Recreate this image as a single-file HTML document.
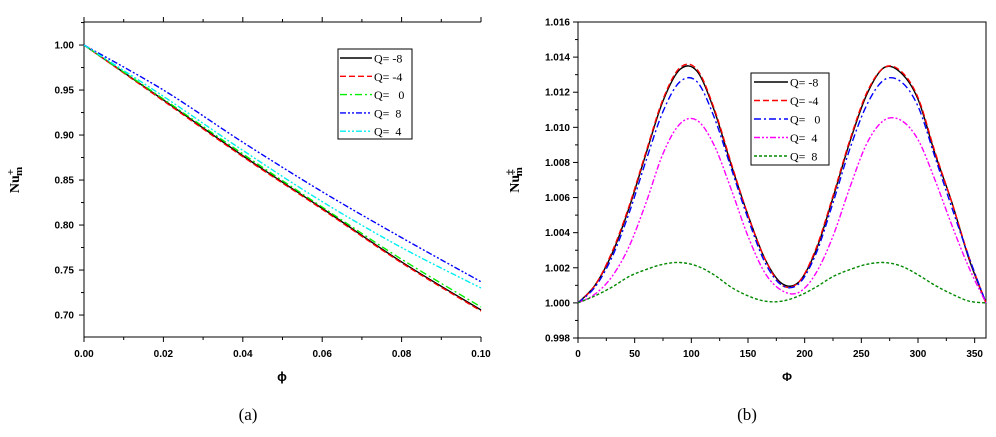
<!DOCTYPE html>
<html><head><meta charset="utf-8"><style>
body{margin:0;background:#fff;width:996px;height:432px;overflow:hidden}
svg text{font-family:"Liberation Sans",Arial,sans-serif}
svg text.serif{font-family:"Liberation Serif","Times New Roman",serif;white-space:pre}
.tk{font-size:10px;font-weight:bold}
</style></head><body>
<svg id="chart" width="996" height="432" viewBox="0 0 996 432">
<g id="pa"></g>
<g id="pb"></g>
</svg>
<script>
// Panel (a) data
const phiA = [0, 0.02, 0.04, 0.06, 0.08, 0.10];
const aQm8 = [1.000, 0.939, 0.877, 0.8185, 0.759, 0.7056];
const aQm4 = [1.000, 0.938, 0.876, 0.8175, 0.758, 0.7045];
const aQ0  = [1.000, 0.940, 0.879, 0.820, 0.762, 0.709];
const aQ8  = [1.000, 0.950, 0.892, 0.837, 0.786, 0.737];
const aQ4  = [1.000, 0.943, 0.883, 0.826, 0.775, 0.730];
const aXTicks = ["0.00","0.02","0.04","0.06","0.08","0.10"];
const aYTicks = ["0.70","0.75","0.80","0.85","0.90","0.95","1.00"];
// Panel (b) data
const phiB = [0,15,30,45,60,75,90,105,120,135,150,165,180,195,210,225,240,255,270,285,300,315,330,345,360];
const bQm8 = [1.0000,1.0010,1.0028,1.0054,1.0085,1.0115,1.0133,1.0132,1.0110,1.0079,1.0050,1.0025,1.0011,1.0012,1.0030,1.0060,1.0092,1.0119,1.0134,1.0131,1.0116,1.0085,1.0057,1.0025,1.0000];
const bQm4 = [1.0000,1.0010,1.0029,1.0055,1.0086,1.0116,1.0134,1.0133,1.0111,1.0080,1.0050,1.0025,1.0010,1.0012,1.0031,1.0061,1.0093,1.0120,1.0134,1.0132,1.0117,1.0086,1.0057,1.0026,1.0000];
const bQ0  = [1.0000,1.0009,1.0026,1.0051,1.0081,1.0109,1.0126,1.0126,1.0106,1.0077,1.0048,1.0023,1.0010,1.0011,1.0028,1.0057,1.0088,1.0113,1.0127,1.0126,1.0112,1.0083,1.0054,1.0026,1.0000];
const bQ4  = [1.0000,1.0005,1.0015,1.0032,1.0057,1.0085,1.0102,1.0104,1.0090,1.0065,1.0038,1.0017,1.0007,1.0006,1.0017,1.0038,1.0066,1.0091,1.0104,1.0104,1.0093,1.0070,1.0044,1.0020,1.0000];
const bQ8  = [1.0000,1.0004,1.0009,1.0015,1.0019,1.0022,1.0023,1.0021,1.0016,1.0009,1.0004,1.0001,1.0001,1.0004,1.0009,1.0015,1.0019,1.0022,1.0023,1.0021,1.0016,1.0010,1.0005,1.0001,1.0000];
const bXTicks = ["0","50","100","150","200","250","300","350"];
const bYTicks = ["0.998","1.000","1.002","1.004","1.006","1.008","1.010","1.012","1.014","1.016"];

const NS="http://www.w3.org/2000/svg";
function mk(p,tag,at,txt){const e=document.createElementNS(NS,tag);for(const k in at)e.setAttribute(k,at[k]);if(txt!=null)e.textContent=txt;p.appendChild(e);return e;}
function smooth(pts){let d=`M${pts[0][0]},${pts[0][1]}`;for(let i=0;i<pts.length-1;i++){const p0=pts[Math.max(0,i-1)],p1=pts[i],p2=pts[i+1],p3=pts[Math.min(pts.length-1,i+2)];d+=` C${p1[0]+(p2[0]-p0[0])/6},${p1[1]+(p2[1]-p0[1])/6} ${p2[0]-(p3[0]-p1[0])/6},${p2[1]-(p3[1]-p1[1])/6} ${p2[0]},${p2[1]}`;}return d;}

// ---- panel a
const A=document.getElementById('pa');
const ax={x0:84,x1:481,y0:337,y1:22,xmin:0,xmax:0.1,ymin:0.6756,ymax:1.0256};
const axX=v=>ax.x0+(v-ax.xmin)/(ax.xmax-ax.xmin)*(ax.x1-ax.x0);
const axY=v=>ax.y0-(v-ax.ymin)/(ax.ymax-ax.ymin)*(ax.y0-ax.y1);
let l;
l=mk(A,'line',{x1:84,y1:22,x2:84,y2:337,stroke:'#000','stroke-width':1});


l=mk(A,'line',{x1:84,y1:337,x2:481,y2:337,stroke:'#000','stroke-width':1});


mk(A,'line',{x1:84,y1:22,x2:481,y2:22,stroke:'#000','stroke-width':1});
for(let i=0;i<=10;i++){const x=axX(i*0.01),len=i%2?3:5;mk(A,'line',{x1:x,y1:337,x2:x,y2:337+len,stroke:'#000'});mk(A,'line',{x1:x,y1:22,x2:x,y2:22-len,stroke:'#000'});}
aXTicks.forEach(t=>{const e=mk(A,'text',{x:axX(+t),y:357,'text-anchor':'middle',class:'tk'},t);});
for(let v=0.70;v<=1.0251;v+=0.025){const y=axY(v),maj=Math.abs(Math.round(v*40)%2)==0;mk(A,'line',{x1:84,y1:y,x2:maj?79:81,y2:y,stroke:'#000'});}
aYTicks.forEach(t=>{const e=mk(A,'text',{x:74,y:axY(+t)+3.5,'text-anchor':'end',class:'tk'},t);});
const aSeries=[[aQm8,'#000','','q-m8'],[aQm4,'#f00','6 3','q-m4'],[aQ0,'#0e0','7 3 2 3','q-0'],[aQ8,'#00f','6 2 2 2 2 2','q-8'],[aQ4,'#0ee','6 2 2 2 2 2','q-4']];
aSeries.forEach(s=>{const p=mk(A,'path',{d:smooth(phiA.map((x,i)=>[axX(x),axY(s[0][i])])),fill:'none',stroke:s[1],'stroke-width':1.4,'stroke-dasharray':s[2]});});
// legend a
const LA=mk(A,'g',{});


mk(LA,'rect',{x:338,y:49,width:74,height:90,fill:'#fff',stroke:'#000'});
[['Q= -8','#000',''],['Q= -4','#f00','6 3'],['Q=   0','#0e0','7 3 2 3'],['Q=  8','#00f','6 2 2 2 2 2'],['Q=  4','#0ee','6 2 2 2 2 2']].forEach((s,i)=>{const y=58+i*18.3;mk(LA,'line',{x1:340,y1:y,x2:372,y2:y,stroke:s[1],'stroke-width':1.4,'stroke-dasharray':s[2]});const t=mk(LA,'text',{x:374,y:y+4.5,'font-size':'12',class:'serif'},s[0]);});
mk(A,'text',{x:282,y:381,'text-anchor':'middle','font-size':'13','font-weight':'bold'},'ϕ');
const ya=mk(A,'text',{transform:'translate(19,180) rotate(-90)','text-anchor':'middle','font-size':'14','font-weight':'bold',class:'serif'});ya.innerHTML='Nu<tspan dy="-5" font-size="11">+</tspan><tspan dy="8" dx="-7" font-size="11">m</tspan>';


mk(A,'text',{x:248,y:420,'text-anchor':'middle','font-size':'17',class:'serif'},'(a)');

// ---- panel b
const B=document.getElementById('pb');
const bx={x0:578,x1:986,y0:338,y1:22,xmin:0,xmax:360,ymin:0.998,ymax:1.016};
const bX=v=>bx.x0+(v-bx.xmin)/(bx.xmax-bx.xmin)*(bx.x1-bx.x0);
const bY=v=>bx.y0-(v-bx.ymin)/(bx.ymax-bx.ymin)*(bx.y0-bx.y1);
l=mk(B,'rect',{x:578,y:22,width:408,height:316,fill:'none',stroke:'#000'});


for(let v=0;v<=350;v+=25){const x=bX(v);mk(B,'line',{x1:x,y1:338,x2:x,y2:338+(v%50?3:5),stroke:'#000'});}
bXTicks.forEach(t=>{const e=mk(B,'text',{x:bX(+t),y:357,'text-anchor':'middle',class:'tk'},t);});
for(let k=0;k<=18;k++){const y=bY(0.998+k*0.001);mk(B,'line',{x1:578,y1:y,x2:k%2?575:573,y2:y,stroke:'#000'});}
bYTicks.forEach(t=>{const e=mk(B,'text',{x:570,y:bY(+t)+3.5,'text-anchor':'end',class:'tk'},t);});
const bSeries=[[bQm8,'#000','','q-m8'],[bQm4,'#f00','6 3','q-m4'],[bQ0,'#00f','7 3 2 3','q-0'],[bQ4,'#f0f','6 2 2 2 2 2','q-4'],[bQ8,'#080','3 2','q-8']];
bSeries.forEach(s=>{const p=mk(B,'path',{d:smooth(phiB.map((x,i)=>[bX(x),bY(s[0][i])])),fill:'none',stroke:s[1],'stroke-width':1.4,'stroke-dasharray':s[2]});});
const LB=mk(B,'g',{});


mk(LB,'rect',{x:751,y:73,width:78,height:92,fill:'#fff',stroke:'#000'});
[['Q= -8','#000',''],['Q= -4','#f00','6 3'],['Q=   0','#00f','7 3 2 3'],['Q=  4','#f0f','6 2 2 2 2 2'],['Q=  8','#080','3 2']].forEach((s,i)=>{const y=82+i*18.5;mk(LB,'line',{x1:754,y1:y,x2:788,y2:y,stroke:s[1],'stroke-width':1.4,'stroke-dasharray':s[2]});const t=mk(LB,'text',{x:790,y:y+4.5,'font-size':'12',class:'serif'},s[0]);});
mk(B,'text',{x:787,y:381,'text-anchor':'middle','font-size':'12','font-weight':'bold'},'Φ');
const yb=mk(B,'text',{transform:'translate(519,180) rotate(-90)','text-anchor':'middle','font-size':'14','font-weight':'bold',class:'serif'});yb.innerHTML='Nu<tspan dy="-5" font-size="11">‡</tspan><tspan dy="8" dx="-7" font-size="11">m</tspan>';


mk(B,'text',{x:747,y:420,'text-anchor':'middle','font-size':'17',class:'serif'},'(b)');
</script>
</body></html>
